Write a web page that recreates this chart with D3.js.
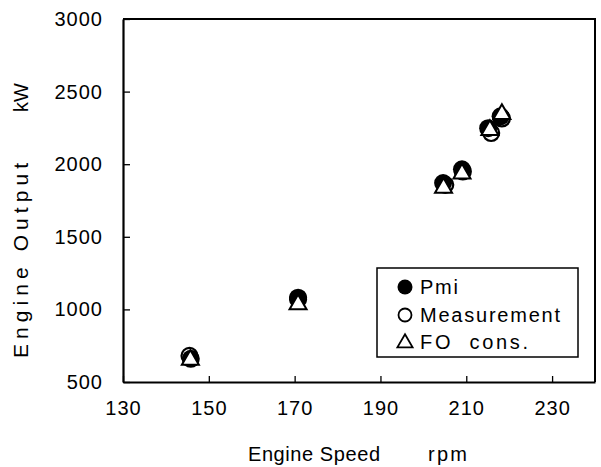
<!DOCTYPE html>
<html>
<head>
<meta charset="utf-8">
<script src="https://cdn.jsdelivr.net/npm/d3@7"></script>
<style>
  body { margin: 0; background: #fff; }
  text { font-family: "Liberation Sans", Arial, sans-serif; fill: #000; }
</style>
</head>
<body>
<div id="content"></div>
<script>
// data
var speedPmi  = [145.8, 170.8, 204.6, 209.0, 215.1, 218.0];
var pmi       = [660, 1070, 1870, 1965, 2248, 2330];
var speedMeas = [145.5, 170.8, 205.1, 209.2, 215.8, 218.3];
var meas      = [680, 1080, 1858, 1950, 2215, 2315];
var speedFO   = [145.7, 170.8, 204.7, 209.0, 215.5, 218.3];
var foCons    = [652, 1035, 1838, 1935, 2235, 2345];

var xTicks = [130, 150, 170, 190, 210, 230];
var yTicks = [500, 1000, 1500, 2000, 2500, 3000];
var legendLabels = ["Pmi", "Measurement", "FO  cons."];

var W = 601, H = 467;
var plot = {left: 123, right: 595, top: 19, bottom: 382};

var svg = d3.select("#content").append("svg")
    .attr("width", W)
    .attr("height", H);

var x = d3.scaleLinear().domain([130, 240]).range([plot.left, plot.right]);
var y = d3.scaleLinear().domain([500, 3000]).range([plot.bottom, plot.top]);

// frame (top and right)
svg.append("path")
    .attr("d", "M" + plot.left + "," + plot.top + "H" + plot.right + "V" + plot.bottom)
    .attr("fill", "none")
    .attr("stroke", "#000")
    .attr("stroke-width", 2);

// x axis
var gx = svg.append("g")
    .attr("transform", "translate(0," + plot.bottom + ")")
    .call(d3.axisBottom(x).tickValues(xTicks).tickFormat(d3.format("d"))
        .tickSize(-6).tickPadding(19).tickSizeOuter(0));
gx.select(".domain").attr("stroke-width", 2.2);
gx.selectAll(".tick line").attr("stroke-width", 1.3);
gx.selectAll(".tick text")
    .style("font-size", "20px")
    .style("letter-spacing", "1px");

// y axis
var gy = svg.append("g")
    .attr("transform", "translate(" + plot.left + ",0)")
    .call(d3.axisLeft(y).tickValues(yTicks).tickFormat(d3.format("d"))
        .tickSize(-7).tickPadding(20).tickSizeOuter(0));
gy.select(".domain").attr("stroke-width", 2.2);
gy.selectAll(".tick line").attr("stroke-width", 1.3);
gy.selectAll(".tick text")
    .style("font-size", "20px")
    .style("letter-spacing", "1px");
gx.attr("font-family", null).attr("font-size", null);
gy.attr("font-family", null).attr("font-size", null);

// axis titles
svg.append("text").attr("x", 248).attr("y", 461)
    .style("font-size", "20px")
    .attr("textLength", 132).attr("lengthAdjust", "spacing")
    .text("Engine Speed");
svg.append("text").attr("x", 428).attr("y", 461)
    .style("font-size", "20px")
    .attr("textLength", 39).attr("lengthAdjust", "spacing")
    .text("rpm");

svg.append("text")
    .attr("transform", "translate(28,358) rotate(-90)")
    .style("font-size", "21px")
    .attr("textLength", 195).attr("lengthAdjust", "spacing")
    .text("Engine Output");
svg.append("text")
    .attr("transform", "translate(28,112) rotate(-90)")
    .style("font-size", "20px")
    .text("kW");

// markers
var tri = d3.symbol().type(d3.symbolTriangle).size(125);

svg.append("g").selectAll("circle")
    .data(d3.zip(speedPmi, pmi))
  .enter().append("circle")
    .attr("cx", function(d) { return x(d[0]); })
    .attr("cy", function(d) { return y(d[1]); })
    .attr("r", 9)
    .attr("fill", "#000");

svg.append("g").selectAll("circle")
    .data(d3.zip(speedMeas, meas))
  .enter().append("circle")
    .attr("cx", function(d) { return x(d[0]); })
    .attr("cy", function(d) { return y(d[1]); })
    .attr("r", 8)
    .attr("fill", "none")
    .attr("stroke", "#000")
    .attr("stroke-width", 2.2);

svg.append("g").selectAll("path")
    .data(d3.zip(speedFO, foCons))
  .enter().append("path")
    .attr("transform", function(d) { return "translate(" + x(d[0]) + "," + y(d[1]) + ")"; })
    .attr("d", tri)
    .attr("fill", "#fff")
    .attr("stroke", "#000")
    .attr("stroke-width", 2);

// legend
var lg = svg.append("g").attr("transform", "translate(377,268)");
lg.append("rect")
    .attr("width", 201).attr("height", 89)
    .attr("fill", "#fff")
    .attr("stroke", "#000")
    .attr("stroke-width", 1.5);

var rowY = [19, 47, 74];
var textLen = [38, 140, 108];

lg.append("circle").attr("cx", 28).attr("cy", rowY[0]).attr("r", 7.5).attr("fill", "#000");
lg.append("circle").attr("cx", 28).attr("cy", rowY[1]).attr("r", 6.5)
    .attr("fill", "none").attr("stroke", "#000").attr("stroke-width", 1.8);
lg.append("path").attr("transform", "translate(28," + (rowY[2] + 1) + ")")
    .attr("d", d3.symbol().type(d3.symbolTriangle).size(100))
    .attr("fill", "#fff").attr("stroke", "#000").attr("stroke-width", 1.8);

lg.selectAll("text.lab")
    .data(legendLabels)
  .enter().append("text")
    .attr("class", "lab")
    .attr("x", 43)
    .attr("y", function(d, i) { return rowY[i] + 7; })
    .style("font-size", "20px")
    .style("white-space", "pre")
    .attr("textLength", function(d, i) { return textLen[i]; })
    .attr("lengthAdjust", "spacing")
    .text(function(d) { return d; });
</script>
</body>
</html>
